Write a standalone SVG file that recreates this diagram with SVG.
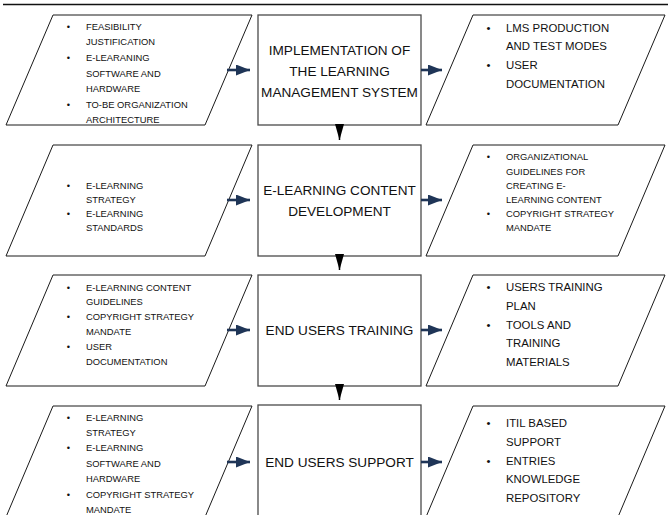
<svg xmlns="http://www.w3.org/2000/svg" width="668" height="515" viewBox="0 0 668 515">
  <style>
    .box { fill: #ffffff; stroke: #4a4a4a; stroke-width: 1.3; }
    .para { fill: #ffffff; stroke: #1a1a1a; stroke-width: 1; }
    .t { font-family: "Liberation Sans", Arial, sans-serif; fill: #111111; }
    .sm { font-size: 9.4px; }
    .lg { font-size: 11.4px; }
    .bx { font-size: 13.6px; text-anchor: middle; }
    .bul { text-anchor: middle; }
    .flow { stroke: #1f3557; stroke-width: 2.6; fill: none; }
    .down { stroke: #000000; stroke-width: 1.5; fill: none; }
  </style>
  <defs>
    <marker id="navyHead" markerUnits="userSpaceOnUse" viewBox="0 0 14 11" refX="14" refY="5.5" markerWidth="14" markerHeight="11" orient="auto">
      <path d="M0,0 L14,5.5 L0,11 Z" fill="#1f3557"/>
    </marker>
    <marker id="blackHead" markerUnits="userSpaceOnUse" viewBox="0 0 16 9" refX="16" refY="4.5" markerWidth="16" markerHeight="9" orient="auto">
      <path d="M0,0 L16,4.5 L0,9 Z" fill="#000000"/>
    </marker>
  </defs>

  <rect width="668" height="515" fill="#ffffff"/>

  <!-- header rule -->
  <line x1="3" y1="4.5" x2="668" y2="4.5" stroke="#111111" stroke-width="1.6"/>

  <!-- row 1 -->
  <g id="in-lms">
    <polygon class="para" points="53,15 252,15 205,125 6,125"/>
    <text class="t sm bul" x="68.5" y="29.5">•</text>
    <text class="t sm" x="86" y="29.5">FEASIBILITY</text>
    <text class="t sm" x="86" y="45.2">JUSTIFICATION</text>
    <text class="t sm bul" x="68.5" y="60.9">•</text>
    <text class="t sm" x="86" y="60.9">E-LEARANING</text>
    <text class="t sm" x="86" y="76.6">SOFTWARE AND</text>
    <text class="t sm" x="86" y="92.3">HARDWARE</text>
    <text class="t sm bul" x="68.5" y="108">•</text>
    <text class="t sm" x="86" y="108">TO-BE ORGANIZATION</text>
    <text class="t sm" x="86" y="123.2">ARCHITECTURE</text>
  </g>
  <g id="lms">
    <rect class="box" x="258" y="15" width="163" height="110"/>
    <text class="t bx" x="339.5" y="54.8">IMPLEMENTATION OF</text>
    <text class="t bx" x="339.5" y="75.8">THE LEARNING</text>
    <text class="t bx" x="339.5" y="96.8">MANAGEMENT SYSTEM</text>
  </g>
  <g id="out-lms">
    <polygon class="para" points="473,15 665,15 618,125 426,125"/>
    <text class="t lg bul" x="488.5" y="31.5">•</text>
    <text class="t lg" x="506" y="31.5">LMS PRODUCTION</text>
    <text class="t lg" x="506" y="50.2">AND TEST MODES</text>
    <text class="t lg bul" x="488.5" y="68.9">•</text>
    <text class="t lg" x="506" y="68.9">USER</text>
    <text class="t lg" x="506" y="87.6">DOCUMENTATION</text>
  </g>

  <!-- row 2 -->
  <g id="in-content">
    <polygon class="para" points="53,145 252,145 205,256 6,256"/>
    <text class="t sm bul" x="68.5" y="189">•</text>
    <text class="t sm" x="86" y="189">E-LEARNING</text>
    <text class="t sm" x="86" y="203">STRATEGY</text>
    <text class="t sm bul" x="68.5" y="217">•</text>
    <text class="t sm" x="86" y="217">E-LEARNING</text>
    <text class="t sm" x="86" y="231">STANDARDS</text>
  </g>
  <g id="content">
    <rect class="box" x="258" y="145" width="163" height="111"/>
    <text class="t bx" x="339.5" y="194.8">E-LEARNING CONTENT</text>
    <text class="t bx" x="339.5" y="215.8">DEVELOPMENT</text>
  </g>
  <g id="out-content">
    <polygon class="para" points="473,145 665,145 618,256 426,256"/>
    <text class="t sm bul" x="488.5" y="160.3">•</text>
    <text class="t sm" x="506" y="160.3">ORGANIZATIONAL</text>
    <text class="t sm" x="506" y="174.5">GUIDELINES FOR</text>
    <text class="t sm" x="506" y="188.7">CREATING E-</text>
    <text class="t sm" x="506" y="202.9">LEARNING CONTENT</text>
    <text class="t sm bul" x="488.5" y="217.1">•</text>
    <text class="t sm" x="506" y="217.1">COPYRIGHT STRATEGY</text>
    <text class="t sm" x="506" y="231.3">MANDATE</text>
  </g>

  <!-- row 3 -->
  <g id="in-training">
    <polygon class="para" points="53,275 252,275 205,386 6,386"/>
    <text class="t sm bul" x="68.5" y="290.5">•</text>
    <text class="t sm" x="86" y="290.5">E-LEARNING CONTENT</text>
    <text class="t sm" x="86" y="305.4">GUIDELINES</text>
    <text class="t sm bul" x="68.5" y="320.3">•</text>
    <text class="t sm" x="86" y="320.3">COPYRIGHT STRATEGY</text>
    <text class="t sm" x="86" y="335.2">MANDATE</text>
    <text class="t sm bul" x="68.5" y="350.1">•</text>
    <text class="t sm" x="86" y="350.1">USER</text>
    <text class="t sm" x="86" y="365">DOCUMENTATION</text>
  </g>
  <g id="training">
    <rect class="box" x="258" y="275" width="163" height="111"/>
    <text class="t bx" x="339.5" y="334.8">END USERS TRAINING</text>
  </g>
  <g id="out-training">
    <polygon class="para" points="473,275 665,275 618,386 426,386"/>
    <text class="t lg bul" x="488.5" y="291">•</text>
    <text class="t lg" x="506" y="291">USERS TRAINING</text>
    <text class="t lg" x="506" y="309.8">PLAN</text>
    <text class="t lg bul" x="488.5" y="328.6">•</text>
    <text class="t lg" x="506" y="328.6">TOOLS AND</text>
    <text class="t lg" x="506" y="347.4">TRAINING</text>
    <text class="t lg" x="506" y="366.2">MATERIALS</text>
  </g>

  <!-- row 4 -->
  <g id="in-support">
    <polygon class="para" points="53,406 252,406 205,517 6,517"/>
    <text class="t sm bul" x="68.5" y="420.5">•</text>
    <text class="t sm" x="86" y="420.5">E-LEARNING</text>
    <text class="t sm" x="86" y="435.9">STRATEGY</text>
    <text class="t sm bul" x="68.5" y="451.3">•</text>
    <text class="t sm" x="86" y="451.3">E-LEARNING</text>
    <text class="t sm" x="86" y="466.7">SOFTWARE AND</text>
    <text class="t sm" x="86" y="482.1">HARDWARE</text>
    <text class="t sm bul" x="68.5" y="497.5">•</text>
    <text class="t sm" x="86" y="497.5">COPYRIGHT STRATEGY</text>
    <text class="t sm" x="86" y="512.5">MANDATE</text>
  </g>
  <g id="support">
    <rect class="box" x="258" y="405" width="163" height="112"/>
    <text class="t bx" x="339.5" y="466.8">END USERS SUPPORT</text>
  </g>
  <g id="out-support">
    <polygon class="para" points="473,406 665,406 618,517 426,517"/>
    <text class="t lg bul" x="488.5" y="427">•</text>
    <text class="t lg" x="506" y="427">ITIL BASED</text>
    <text class="t lg" x="506" y="445.8">SUPPORT</text>
    <text class="t lg bul" x="488.5" y="464.6">•</text>
    <text class="t lg" x="506" y="464.6">ENTRIES</text>
    <text class="t lg" x="506" y="483.4">KNOWLEDGE</text>
    <text class="t lg" x="506" y="502.2">REPOSITORY</text>
  </g>

  <!-- connectors -->
  <g id="connectors">
    <line class="flow" x1="227" y1="70" x2="250" y2="70" marker-end="url(#navyHead)"/>
    <line class="flow" x1="421" y1="70" x2="442" y2="70" marker-end="url(#navyHead)"/>
    <line class="flow" x1="227" y1="200" x2="250" y2="200" marker-end="url(#navyHead)"/>
    <line class="flow" x1="421" y1="200" x2="442" y2="200" marker-end="url(#navyHead)"/>
    <line class="flow" x1="227" y1="330" x2="250" y2="330" marker-end="url(#navyHead)"/>
    <line class="flow" x1="421" y1="330" x2="442" y2="330" marker-end="url(#navyHead)"/>
    <line class="flow" x1="227" y1="462" x2="250" y2="462" marker-end="url(#navyHead)"/>
    <line class="flow" x1="421" y1="462" x2="442" y2="462" marker-end="url(#navyHead)"/>
    <line class="down" x1="339.5" y1="125" x2="339.5" y2="140" marker-end="url(#blackHead)"/>
    <line class="down" x1="339.5" y1="256" x2="339.5" y2="270" marker-end="url(#blackHead)"/>
    <line class="down" x1="339.5" y1="386" x2="339.5" y2="400" marker-end="url(#blackHead)"/>
  </g>
</svg>
